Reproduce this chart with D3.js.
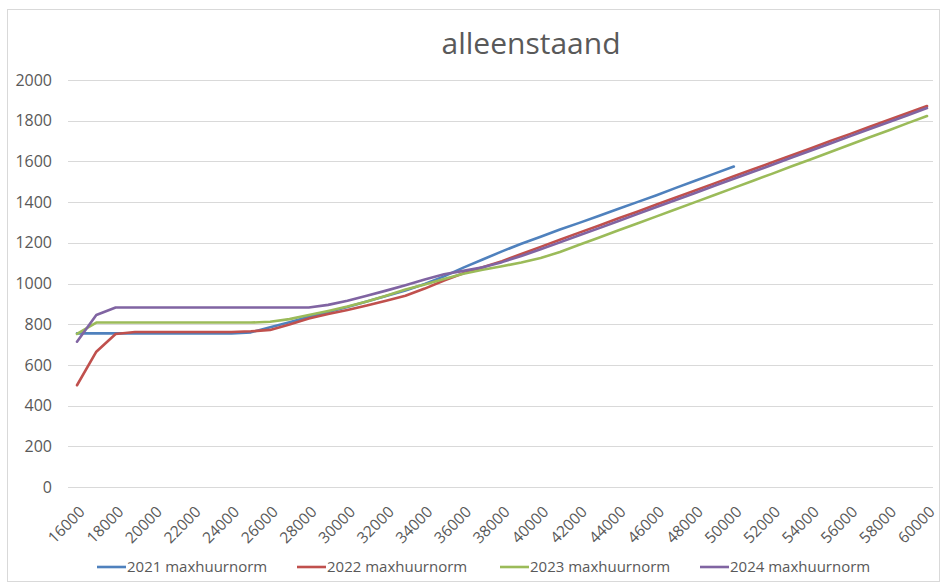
<!DOCTYPE html>
<html>
<head>
<meta charset="utf-8">
<script src="https://cdn.jsdelivr.net/npm/d3@7/dist/d3.min.js"></script>
<style>
  html, body { margin: 0; padding: 0; background: #fff; }
  svg { display: block; font-family: "Open Sans", "Noto Sans", sans-serif; }
</style>
</head>
<body>
<svg id="chart" width="944" height="586"></svg>
<script>
const title = "alleenstaand";
const incomes = [16000,17000,18000,19000,20000,21000,22000,23000,24000,25000,26000,27000,28000,29000,30000,31000,32000,33000,34000,35000,36000,37000,38000,39000,40000,41000,42000,43000,44000,45000,46000,47000,48000,49000,50000,51000,52000,53000,54000,55000,56000,57000,58000,59000,60000];
const xTickLabels = [16000,18000,20000,22000,24000,26000,28000,30000,32000,34000,36000,38000,40000,42000,44000,46000,48000,50000,52000,54000,56000,58000,60000];
const yTicks = [0,200,400,600,800,1000,1200,1400,1600,1800,2000];
const seriesNames = ["2021 maxhuurnorm","2022 maxhuurnorm","2023 maxhuurnorm","2024 maxhuurnorm"];
const seriesColors = ["#4F81BD","#C0504D","#9BBB59","#8064A2"];
const s2021 = [755,755,755,755,755,755,755,755,755,760,785,810,836,860,885,912,938,966,998,1035,1078,1118,1158,1195,1230,1265,1298,1332,1366,1400,1434,1470,1505,1540,1575];
const s2022 = [500,665,752,762,762,762,762,762,762,765,772,798,828,850,870,892,915,940,975,1015,1050,1080,1110,1145,1180,1215,1250,1284,1319,1353,1388,1423,1457,1492,1527,1561,1596,1630,1665,1700,1734,1769,1803,1838,1872];
const s2023 = [752,808,808,808,808,808,808,808,808,808,812,825,845,865,887,912,940,970,995,1022,1048,1068,1085,1103,1125,1155,1190,1225,1260,1295,1330,1365,1400,1435,1470,1505,1540,1576,1611,1646,1682,1717,1752,1788,1823];
const s2024 = [714,845,882,882,882,882,882,882,882,882,882,882,882,895,915,940,965,992,1020,1045,1062,1080,1105,1135,1168,1202,1237,1271,1306,1341,1376,1410,1445,1480,1515,1549,1584,1619,1654,1688,1723,1758,1792,1827,1862];
const allSeries = [s2021, s2022, s2023, s2024];

const svg = d3.select("#chart");
const gridLeft = 68, gridRight = 933;

svg.append("rect").attr("x", 7.5).attr("y", 9.5).attr("width", 932).attr("height", 572)
  .attr("fill", "#fff").attr("stroke", "#d9d9d9").attr("stroke-width", 1);

const x = d3.scaleLinear().domain([16000, 60000]).range([77, 927]);
const y = d3.scaleLinear().domain([0, 2000]).range([487, 80]);

// title
svg.append("text").attr("x", 531).attr("y", 54).attr("text-anchor", "middle")
  .attr("fill", "#595959").attr("font-size", 30).text(title);

// grid
svg.append("g").selectAll("line").data(yTicks).join("line")
  .attr("x1", gridLeft).attr("x2", gridRight)
  .attr("y1", d => Math.round(y(d)) + 0.5).attr("y2", d => Math.round(y(d)) + 0.5)
  .attr("stroke", "#d9d9d9").attr("stroke-width", 1);

// y axis labels
const yAxis = d3.axisLeft(y).tickValues(yTicks).tickSize(0).tickPadding(0).tickFormat(d3.format("d"));
const gy = svg.append("g").attr("transform", "translate(52,0)").call(yAxis);
gy.select(".domain").remove();
gy.selectAll("text").attr("fill", "#595959").attr("font-size", 16)
  .attr("font-family", "\"Open Sans\", sans-serif");

// x axis labels
const xAxis = d3.axisBottom(x).tickValues(xTickLabels).tickSize(0).tickPadding(0).tickFormat(d3.format("d"));
const gx = svg.append("g").call(xAxis);
gx.select(".domain").remove();
gx.selectAll(".tick").attr("transform", d => `translate(${x(d) + 5},509)`);
gx.selectAll("text").attr("fill", "#595959").attr("font-size", 15.5)
  .attr("font-family", "\"Open Sans\", sans-serif")
  .attr("text-anchor", "end").attr("dy", "0.35em").attr("y", 0).attr("x", 0)
  .attr("transform", "rotate(-45)");

// lines
const line = d3.line().x((d, i) => x(incomes[i])).y(d => y(d));
allSeries.forEach((s, k) => {
  svg.append("path").datum(s).attr("d", line)
    .attr("fill", "none").attr("stroke", seriesColors[k])
    .attr("stroke-width", 2.6).attr("stroke-linejoin", "round").attr("stroke-linecap", "round");
});

// legend
const legendX = [97, 297, 500, 700];
const lg = svg.append("g");
seriesNames.forEach((n, k) => {
  lg.append("line").attr("x1", legendX[k]).attr("x2", legendX[k] + 29)
    .attr("y1", 567).attr("y2", 567).attr("stroke", seriesColors[k]).attr("stroke-width", 2.6);
  lg.append("text").attr("x", legendX[k] + 30).attr("y", 572)
    .attr("fill", "#595959").attr("font-size", 15).text(n);
});
</script>
</body>
</html>
